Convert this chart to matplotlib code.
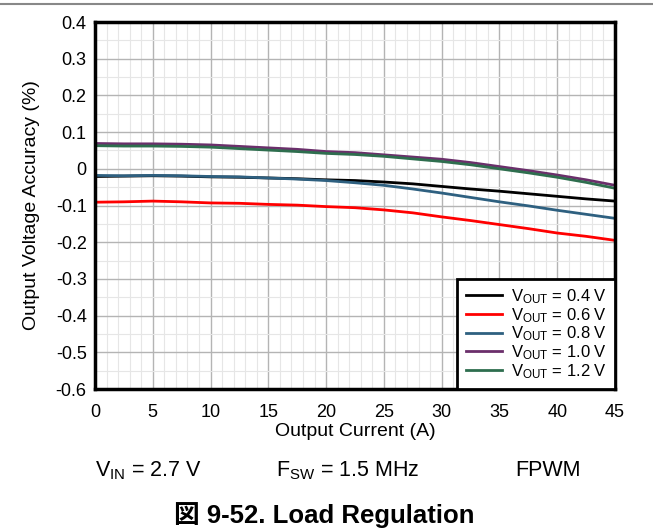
import matplotlib
matplotlib.use("Agg")
import matplotlib.pyplot as plt
from matplotlib.ticker import MultipleLocator
from matplotlib.lines import Line2D

plt.rcParams['font.family'] = ['Liberation Sans', 'Noto Sans CJK JP', 'DejaVu Sans']
plt.rcParams['mathtext.fontset'] = 'custom'
plt.rcParams['mathtext.rm'] = 'Liberation Sans'
plt.rcParams['mathtext.it'] = 'Liberation Sans'

current = [0, 2.5, 5, 7.5, 10, 12.5, 15, 17.5, 20, 22.5, 25, 27.5, 30, 32.5, 35, 37.5, 40, 42.5, 45]
v04 = [-0.021, -0.020, -0.019, -0.020, -0.022, -0.023, -0.025, -0.027, -0.030, -0.032, -0.036, -0.041, -0.048, -0.055, -0.061, -0.068, -0.075, -0.082, -0.088]
v06 = [-0.091, -0.090, -0.088, -0.090, -0.093, -0.094, -0.097, -0.099, -0.103, -0.106, -0.112, -0.120, -0.131, -0.141, -0.152, -0.163, -0.175, -0.184, -0.195]
v08 = [-0.018, -0.019, -0.018, -0.019, -0.021, -0.022, -0.025, -0.028, -0.032, -0.038, -0.045, -0.055, -0.066, -0.078, -0.090, -0.101, -0.113, -0.124, -0.135]
v10 = [0.069, 0.068, 0.068, 0.067, 0.065, 0.061, 0.057, 0.053, 0.047, 0.044, 0.038, 0.032, 0.026, 0.017, 0.006, -0.005, -0.017, -0.030, -0.045]
v12 = [0.063, 0.062, 0.062, 0.061, 0.059, 0.055, 0.051, 0.047, 0.042, 0.039, 0.034, 0.027, 0.020, 0.011, 0.000, -0.011, -0.023, -0.037, -0.053]

series = [
    (v04, '#000000', r'V$_{\mathrm{OUT}}$ = 0.4 V'),
    (v06, '#ff0000', r'V$_{\mathrm{OUT}}$ = 0.6 V'),
    (v08, '#2e6080', r'V$_{\mathrm{OUT}}$ = 0.8 V'),
    (v10, '#6b2f6b', r'V$_{\mathrm{OUT}}$ = 1.0 V'),
    (v12, '#2e6e4e', r'V$_{\mathrm{OUT}}$ = 1.2 V'),
]

W, H = 653, 529
fig = plt.figure(figsize=(6.53, 5.29), dpi=100)
ax = fig.add_axes([95/W, 1-389/H, 520/W, 367/H])

for vals, color, label in series:
    ax.plot(current, vals, color=color, lw=2, label=label)

ax.set_xlim(0, 45)
ax.set_ylim(-0.6, 0.4)
ax.xaxis.set_major_locator(MultipleLocator(5))
ax.xaxis.set_minor_locator(MultipleLocator(1))
ax.yaxis.set_major_locator(MultipleLocator(0.1))
ax.yaxis.set_minor_locator(MultipleLocator(0.05))
ax.grid(which='major', color='#b4b4b4', lw=1.0)
ax.grid(which='minor', color='#e6e6e6', lw=0.8)
ax.set_axisbelow(True)
ax.tick_params(which='both', length=0, labelsize=13)
ax.tick_params(axis='x', pad=10.5)
ax.tick_params(axis='y', pad=6)
ax.set_yticks([0.4, 0.3, 0.2, 0.1, 0, -0.1, -0.2, -0.3, -0.4, -0.5, -0.6])
ax.set_yticklabels(['0.4', '0.3', '0.2', '0.1', '0', '-0.1', '-0.2', '-0.3', '-0.4', '-0.5', '-0.6'])
for s in ax.spines.values():
    s.set_linewidth(2.5)
ax.set_xlabel('Output Current (A)', fontsize=14)
ax.set_ylabel('Output Voltage Accuracy (%)', fontsize=14)
ax.xaxis.set_label_coords(0.5, -0.093)
ax.yaxis.set_label_coords(-0.106, 0.5)

leg = ax.legend(loc='lower right', fontsize=12, frameon=True, fancybox=False,
                borderaxespad=0, handlelength=2.15, labelspacing=0.0,
                borderpad=0.5, handletextpad=0.55)
leg.get_frame().set_edgecolor('black')
leg.get_frame().set_linewidth(2)
leg.get_frame().set_alpha(1)

fig.add_artist(Line2D([0, 1], [1-4/H, 1-4/H], color='#888888', lw=1.5))

fig.text(95/W, 1-476/H, r'V$_{\mathrm{IN}}$ = 2.7 V', fontsize=15.5, ha='left', va='baseline')
fig.text(276/W, 1-476/H, r'F$_{\mathrm{SW}}$ = 1.5 MHz', fontsize=15.5, ha='left', va='baseline')
fig.text(515/W, 1-476/H, 'FPWM', fontsize=15.5, ha='left', va='baseline')
fig.text(324/W, 1-523/H, '図 9-52. Load Regulation', fontsize=18.5, fontweight='bold',
         ha='center', va='baseline')

fig.savefig('out.png', dpi=100)
